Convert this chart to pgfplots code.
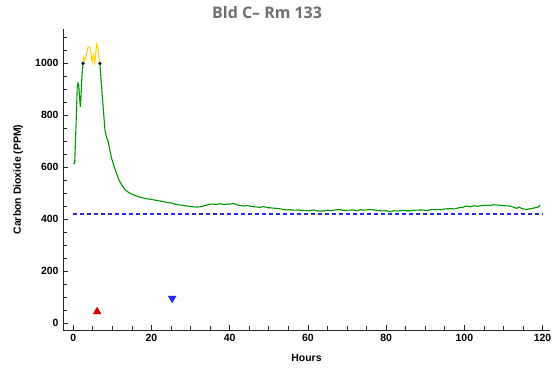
\documentclass[border=0pt]{standalone}
\usepackage{fontspec}
\setmainfont{Liberation Sans}
\newfontfamily\titlefont{Open Sans}
\usepackage{pgfplots}
\pgfplotsset{compat=1.18}
\definecolor{cgreen}{RGB}{0,150,0}
\definecolor{cyellow}{RGB}{255,210,0}
\definecolor{cblue}{RGB}{40,40,240}
\definecolor{cred}{RGB}{210,0,0}
\definecolor{ctitle}{RGB}{110,110,110}
\begin{document}
\begin{tikzpicture}
\useasboundingbox (-63bp,-38bp) rectangle (489bp,330bp);
\begin{axis}[
  at={(0,0)}, anchor=south west,
  scale only axis, width=487bp, height=301bp,
  xmin=-2.63, xmax=121.9, ymin=-25.8, ymax=1132,
  axis x line=bottom, axis y line=left,
  axis line style={-, line width=0.9bp, black!85},
  tick align=inside,
  major tick length=4.5bp, minor tick length=3.5bp,
  tick style={line width=0.8bp, black!85},
  xtick={0,20,...,120}, ytick={0,200,...,1000},
  minor xtick={5,10,...,115}, minor ytick={50,100,...,1100},
  /pgf/number format/assume math mode=true,
  /pgf/number format/1000 sep={},
  ticklabel style={font=\fontsize{10.5}{12}\selectfont\bfseries},
  xticklabel style={yshift=-1bp},
  yticklabel style={xshift=-1bp},
  xlabel={\fontsize{10.5}{12}\selectfont\bfseries Hours},
  ylabel={\fontsize{10.5}{12}\selectfont\bfseries Carbon Dioxide (PPM)},
  xlabel style={at={(axis description cs:0.5,-0.093)}, anchor=center},
  ylabel style={at={(axis description cs:-0.092,0.5)}, anchor=center},
  title={\titlefont\fontsize{16}{18}\selectfont\bfseries\color{ctitle} Bld C– Rm 133},
  title style={at={(axis description cs:0.419,1)}, anchor=center, yshift=10bp},
  clip=false,
]
\addplot[cblue, line width=1.4bp, dash pattern=on 4bp off 3bp] coordinates {(0,420) (120,420)};
\addplot[cgreen, line width=1.1bp] coordinates {
(0,614)(0.35,614)(0.7,760)(1.0,905)(1.2,923)(1.4,915)(1.6,870)(1.8,833)(2.0,880)(2.2,948)(2.5,1000)};
\addplot[cyellow, line width=1.1bp] coordinates {
(2.5,1000)(2.7,1022)(2.9,1012)(3.2,1020)(3.5,1045)(3.8,1062)(4.25,1062)(4.5,1040)(4.8,1006)(5.1,1032)(5.3,1020)(5.5,1002)(5.8,1050)(6.0,1074)(6.2,1060)(6.4,1045)(6.8,1000)};
\addplot[cgreen, line width=1.1bp] coordinates {
(6.8,1000)(7.3,897)(8.1,743)(8.5,715)(8.95,698)(9.3,670)(9.8,635)(10.4,605)(11.1,575)(11.7,550)(12.4,532)(13.2,515)(14.0,505)(14.5,500)(15.5,493)(16.6,487)(17.5,483)(18.5,480)(19.6,477)(20.5,475)(21.5,472)(22.5,470)(23.9,465)(25,463)(26,458)(27.3,455)(28.5,452)(29.5,450)(30.7,448)(31.5,447)(32.5,448)(33.5,452)(34.5,456)(35.4,459)(36.5,457)(37.5,460)(38.5,457)(39.5,459)(40.1,458)(41,461)(42,455)(43.5,451)(44.5,453)(45.5,449)(46.5,448)(47.7,446)(48.7,449)(49.5,445)(50.5,444)(52,442)(53,440)(54.6,436)(55.5,437)(56.5,435)(57.5,436)(58.5,434)(60.5,433)(61.5,436)(62.5,432)(63.9,432)(65,435)(66,433)(67,436)(68.2,438)(69,434)(70,435)(71.6,436)(72.5,433)(73.5,437)(74.5,435)(75.9,438)(77,436)(78,434)(79,432)(80,433)(81,429)(82,433)(83,432)(84,434)(85,433)(86.1,433)(87.5,435)(89,436)(90.5,434)(91.5,437)(92.9,438)(94,437)(95,440)(96.3,441)(97.5,440)(98.5,444)(99.5,446)(100.6,451)(101.5,448)(102.5,452)(103.5,450)(104.5,453)(105.5,454)(106.5,453)(107.4,456)(108.5,455)(109.5,453)(110.5,452)(111.7,451)(112.5,447)(113.4,442)(114,447)(114.5,443)(115,440)(116,438)(117,441)(118,444)(118.5,446)(119,448)(119.4,454)};
\addplot[only marks, mark=*, mark size=1.4bp, black] coordinates {(2.5,1000)(6.8,1000)};
\addplot[only marks, mark=triangle*, mark size=4.5bp, cred, mark options={fill=cred}] coordinates {(6.1,45)};
\addplot[only marks, mark=triangle*, mark size=4.5bp, cblue, mark options={fill=cblue, rotate=180}] coordinates {(25.3,96)};
\end{axis}
\end{tikzpicture}
\end{document}
